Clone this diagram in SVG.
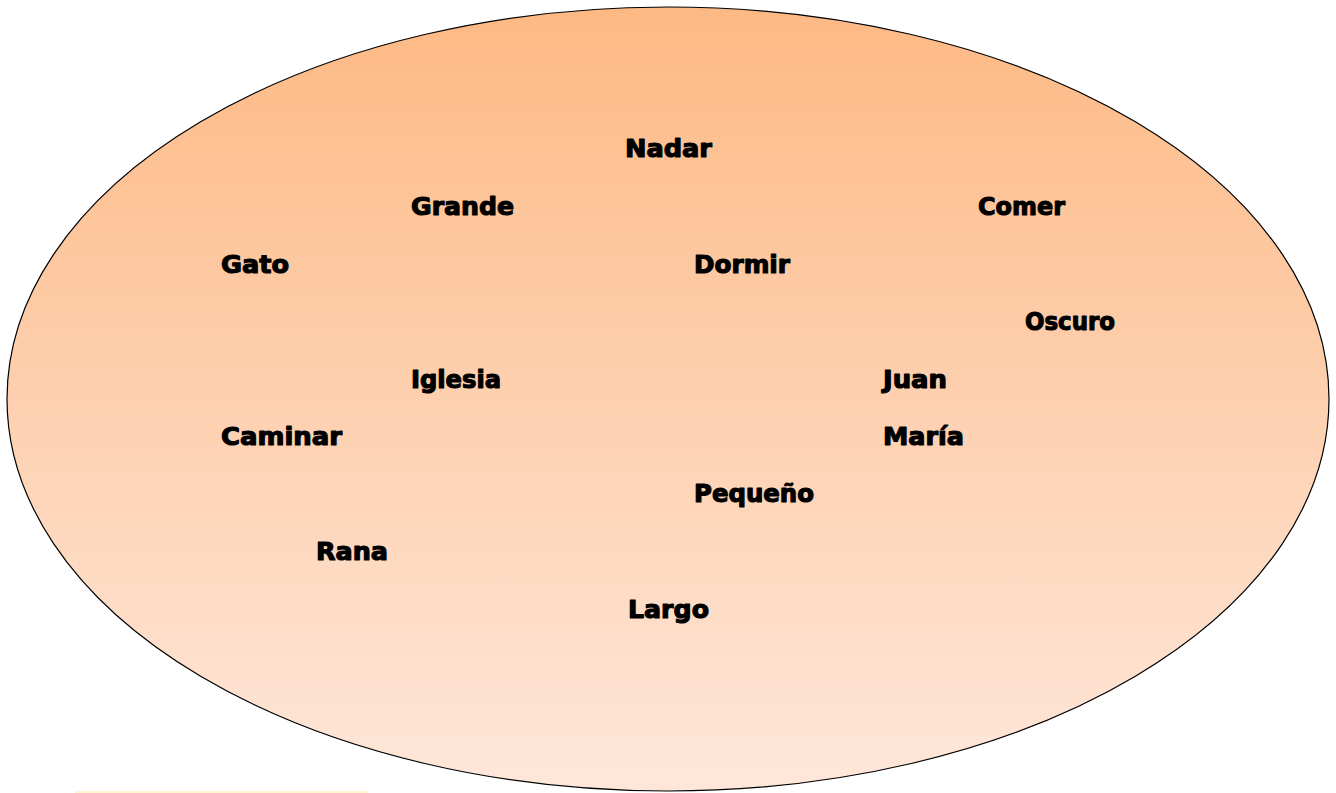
<svg xmlns="http://www.w3.org/2000/svg" width="1336" height="793" viewBox="0 0 1336 793">
<defs>
<linearGradient id="g" x1="0" y1="0" x2="0" y2="1">
<stop offset="0" stop-color="#FDB984"/>
<stop offset="1" stop-color="#FEE7DA"/>
</linearGradient>
<style>
.w{font-family:"DejaVu Sans","Liberation Sans",sans-serif;font-weight:bold;font-size:24px;fill:#000;stroke:#000;stroke-width:1.1px;stroke-linejoin:round}
</style>
</defs>
<rect width="1336" height="793" fill="#fff"/>
<line x1="75" y1="792" x2="368" y2="792" stroke="#FFF2C0" stroke-width="1.5"/>
<g id="oval"><ellipse cx="668" cy="399" rx="661" ry="392" fill="url(#g)" stroke="#000" stroke-width="1.2"/></g>
<g id="words">
<g id="nadar"><text class="w" x="625" y="157" textLength="87" lengthAdjust="spacingAndGlyphs">Nadar</text></g>
<g id="grande"><text class="w" x="411" y="215" textLength="103" lengthAdjust="spacingAndGlyphs">Grande</text></g>
<g id="comer"><text class="w" x="978" y="215" textLength="87" lengthAdjust="spacingAndGlyphs">Comer</text></g>
<g id="gato"><text class="w" x="221" y="273" textLength="68" lengthAdjust="spacingAndGlyphs">Gato</text></g>
<g id="dormir"><text class="w" x="694" y="273" textLength="96" lengthAdjust="spacingAndGlyphs">Dormir</text></g>
<g id="oscuro"><text class="w" x="1025" y="330" textLength="90" lengthAdjust="spacingAndGlyphs">Oscuro</text></g>
<g id="iglesia"><text class="w" x="411" y="388" textLength="90" lengthAdjust="spacingAndGlyphs">Iglesia</text></g>
<g id="juan"><text class="w" x="883" y="388" textLength="64" lengthAdjust="spacingAndGlyphs">Juan</text></g>
<g id="caminar"><text class="w" x="221" y="445" textLength="121" lengthAdjust="spacingAndGlyphs">Caminar</text></g>
<g id="maria"><text class="w" x="883" y="445" textLength="81" lengthAdjust="spacingAndGlyphs">María</text></g>
<g id="pequeno"><text class="w" x="694" y="502" textLength="120" lengthAdjust="spacingAndGlyphs">Pequeño</text></g>
<g id="rana"><text class="w" x="316" y="560" textLength="72" lengthAdjust="spacingAndGlyphs">Rana</text></g>
<g id="largo"><text class="w" x="628" y="618" textLength="81" lengthAdjust="spacingAndGlyphs">Largo</text></g>
</g>
</svg>
